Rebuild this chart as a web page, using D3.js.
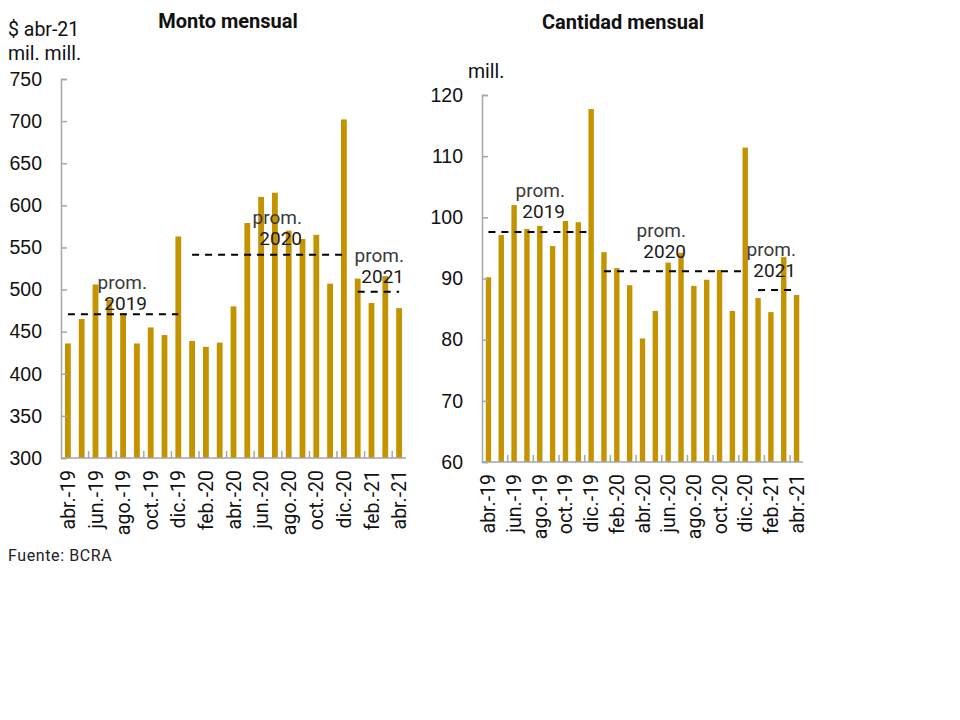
<!DOCTYPE html>
<html lang="es">
<head>
<meta charset="utf-8">
<title>Monto y cantidad mensual</title>
<script src="https://cdn.jsdelivr.net/npm/d3@7"></script>
<style>
  body { margin: 0; background: #fff; }
  svg { display: block; font-family: Roboto, "Noto Sans", sans-serif; }
</style>
</head>
<body>
<div id="chart"></div>
<script>
// months, abr-19 .. abr-21
var months = ["abr.-19","may.-19","jun.-19","jul.-19","ago.-19","sep.-19","oct.-19","nov.-19","dic.-19",
              "ene.-20","feb.-20","mar.-20","abr.-20","may.-20","jun.-20","jul.-20","ago.-20","sep.-20",
              "oct.-20","nov.-20","dic.-20","ene.-21","feb.-21","mar.-21","abr.-21"];

// monto mensual, $ abr-21 mil. mill.
var monto = [436, 465, 506, 488, 472, 436, 455, 446, 563,
             439, 432, 437, 480, 579, 610, 615, 570, 560, 565, 507, 702,
             513, 484, 516, 478];

// cantidad mensual, mill.
var cantidad = [90.2, 97.1, 102.0, 98.1, 98.6, 95.3, 99.4, 99.2, 117.7,
                94.3, 91.7, 88.9, 80.2, 84.7, 92.6, 94.2, 88.8, 89.8, 91.4, 84.7, 111.4,
                86.8, 84.5, 93.5, 87.3];

// yearly averages: [label, first month, last month, value]
var promMonto = [["2019", "abr.-19", "dic.-19", 470.6], ["2020", "ene.-20", "dic.-20", 541.4], ["2021", "ene.-21", "abr.-21", 497.5]];
var promCantidad = [["2019", "abr.-19", "dic.-19", 97.6], ["2020", "ene.-20", "dic.-20", 91.2], ["2021", "ene.-21", "abr.-21", 88.1]];

var montoTicks = [300, 350, 400, 450, 500, 550, 600, 650, 700, 750];
var cantidadTicks = [60, 70, 80, 90, 100, 110, 120];

var barColor = "#C49300";
var axisColor = "#a6a6a6";
var fs = "19.5px";

var svg = d3.select("#chart").append("svg")
    .attr("width", 960)
    .attr("height", 720);

function drawChart(cfg) {
  var x = d3.scaleBand().domain(months).range([cfg.x0, cfg.x1]).paddingInner(0.58).paddingOuter(0.29);
  var y = d3.scaleLinear().domain(cfg.domain).range([cfg.y0, cfg.y1]);
  var g = svg.append("g");

  // title
  g.append("text")
    .attr("x", cfg.titleX).attr("y", cfg.titleY)
    .attr("text-anchor", "middle")
    .attr("font-size", "20px").attr("font-weight", "bold")
    .attr("fill", "#111")
    .text(cfg.title);

  // unit lines
  cfg.units.forEach(function(u) {
    g.append("text").attr("x", u[0]).attr("y", u[1])
      .attr("font-size", fs).attr("fill", "#111").text(u[2]);
  });

  // bars
  g.selectAll("rect.bar")
    .data(cfg.values)
    .enter().append("rect")
    .attr("class", "bar")
    .attr("x", function(d, i) { return x(months[i]); })
    .attr("y", function(d) { return y(d); })
    .attr("width", x.bandwidth())
    .attr("height", function(d) { return y(cfg.domain[0]) - y(d); })
    .attr("fill", barColor);

  // y axis
  var yAxis = d3.axisLeft(y).tickValues(cfg.ticks).tickSize(-6).tickPadding(19);
  var ya = g.append("g").attr("transform", "translate(" + cfg.x0 + ",0)").call(yAxis);
  ya.select(".domain").attr("stroke", axisColor).attr("stroke-width", 1.5);
  ya.selectAll(".tick line").attr("stroke", axisColor).attr("stroke-width", 1.5);
  ya.selectAll(".tick text").attr("font-size", fs).attr("fill", "#111").attr("font-family", null);

  // x axis: ticks every other band boundary, labels every other month
  var step = x.step();
  var xa = g.append("g").attr("transform", "translate(0," + cfg.y0 + ")");
  xa.append("line")
    .attr("x1", cfg.x0).attr("x2", cfg.x1)
    .attr("stroke", axisColor).attr("stroke-width", 1.5);
  var bounds = d3.range(2, months.length, 2);
  xa.selectAll("line.xt").data(bounds).enter().append("line")
    .attr("class", "xt")
    .attr("x1", function(b) { return cfg.x0 + b * step; })
    .attr("x2", function(b) { return cfg.x0 + b * step; })
    .attr("y1", 0).attr("y2", -7)
    .attr("stroke", axisColor).attr("stroke-width", 1.5);
  xa.selectAll("text").data(months.filter(function(m, i) { return i % 2 === 0; }))
    .enter().append("text")
    .attr("transform", function(m) { return "translate(" + (x(m) + x.bandwidth() / 2) + ",12) rotate(-90)"; })
    .attr("dy", "0.36em")
    .attr("text-anchor", "end")
    .attr("font-size", fs)
    .attr("fill", "#111")
    .text(function(m) { return m; });

  // averages
  cfg.prom.forEach(function(p, k) {
    var xs = x(p[1]) + x.bandwidth() / 2;
    var xe = x(p[2]) + x.bandwidth() / 2;
    g.append("line")
      .attr("x1", xs).attr("x2", xe)
      .attr("y1", y(p[3])).attr("y2", y(p[3]))
      .attr("stroke", "#000").attr("stroke-width", 2)
      .attr("stroke-dasharray", "7,6");
    var lab = cfg.labels[k];
    g.append("text").attr("x", lab[0]).attr("y", lab[1] - 1)
      .attr("text-anchor", "end").attr("font-size", "19px").attr("fill", "#3a3a3a")
      .text("prom.");
    g.append("text").attr("x", lab[0]).attr("y", lab[1] + 20)
      .attr("text-anchor", "end").attr("font-size", "19px").attr("fill", "#1a1a1a")
      .text(p[0]);
  });
}

drawChart({
  title: "Monto mensual", titleX: 228, titleY: 28,
  units: [[8, 36, "$ abr-21"], [8, 60, "mil. mill."]],
  values: monto, domain: [300, 750], ticks: montoTicks,
  x0: 61, x1: 406, y0: 458, y1: 79,
  prom: promMonto,
  labels: [[147, 290], [302, 225], [404, 263]]
});

drawChart({
  title: "Cantidad mensual", titleX: 623, titleY: 29,
  units: [[468, 78, "mill."]],
  values: cantidad, domain: [60, 120], ticks: cantidadTicks,
  x0: 482, x1: 803, y0: 462, y1: 95,
  prom: promCantidad,
  labels: [[565, 198], [686, 238], [796, 257]]
});

svg.append("text")
  .attr("x", 8).attr("y", 561)
  .attr("font-size", "16px").attr("fill", "#222")
  .attr("letter-spacing", "0.6px")
  .text("Fuente: BCRA");
</script>
</body>
</html>
